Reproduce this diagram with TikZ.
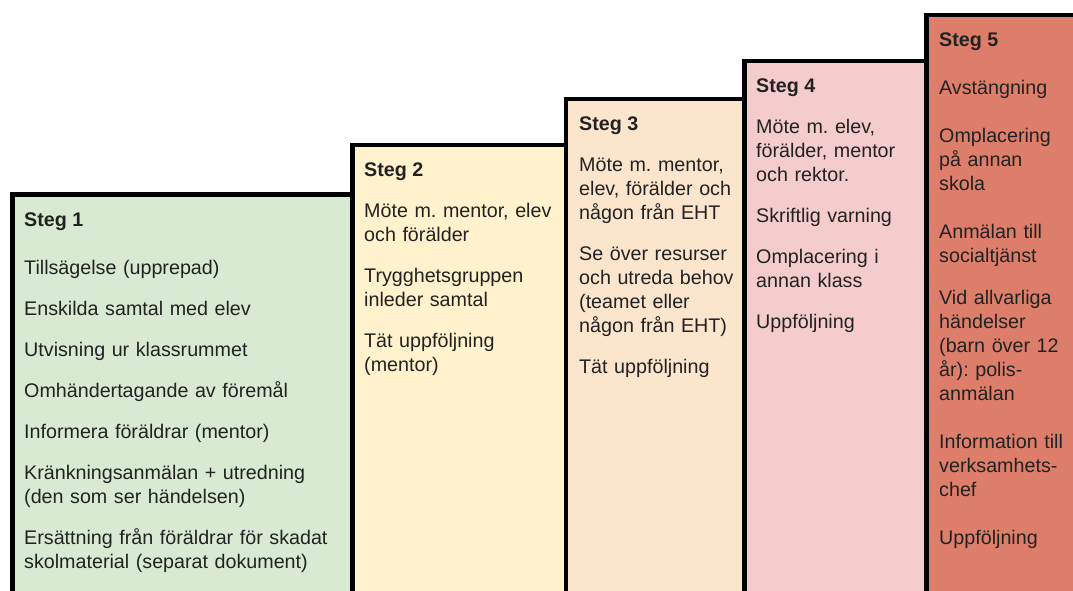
\documentclass[tikz,border=0pt]{standalone}
\usepackage{fontspec}
\setmainfont{Liberation Sans}
\definecolor{steg1}{HTML}{D9EAD3}
\definecolor{steg2}{HTML}{FFF2CC}
\definecolor{steg3}{HTML}{FCE5CD}
\definecolor{steg4}{HTML}{F4CCCC}
\definecolor{steg5}{HTML}{DD7E6B}
\definecolor{textgray}{HTML}{222222}
\tikzset{
  stegbox/.style={draw=black, line width=4.5pt},
  stegtitel/.style={anchor=base west, inner sep=0pt, text=textgray,
    font=\fontsize{19.7}{24}\selectfont\bfseries},
  stegtext/.style={anchor=base west, inner sep=0pt, align=left, text=textgray,
    font=\fontsize{19.7}{24}\selectfont\frenchspacing}
}
\begin{document}
\begin{tikzpicture}[x=1pt,y=-1pt]
  \useasboundingbox (0,0) rectangle (1073,590);
  % the steps, left to right
  \draw[stegbox, fill=steg1] (12.5,194.5) rectangle (352.5,610);
  \draw[stegbox, fill=steg2] (352.5,145) rectangle (566,610);
  \draw[stegbox, fill=steg3] (566,99) rectangle (744.5,610);
  \draw[stegbox, fill=steg4] (744.5,61) rectangle (926.5,610);
  \draw[stegbox, fill=steg5] (926.5,15) rectangle (1100,610);
  % steg 1
  \node[stegtitel] (t1) at (24,226) {Steg 1};
  \node[stegtext, text width=325pt] (b1) at (24,274) {Tillsägelse (upprepad)\\[17pt]
    Enskilda samtal med elev\\[17pt]
    Utvisning ur klassrummet\\[17pt]
    Omhändertagande av föremål\\[17pt]
    Informera föräldrar (mentor)\\[17pt]
    Kränkningsanmälan + utredning\\
    (den som ser händelsen)\\[17pt]
    Ersättning från föräldrar för skadat\\
    skolmaterial (separat dokument)};
  % steg 2
  \node[stegtitel] (t2) at (364,176) {Steg 2};
  \node[stegtext, text width=200pt] (b2) at (364,217) {Möte m. mentor, elev\\
    och förälder\\[17pt]
    Trygghetsgruppen\\
    inleder samtal\\[17pt]
    Tät uppföljning\\
    (mentor)};
  % steg 3
  \node[stegtitel] (t3) at (579,130) {Steg 3};
  \node[stegtext, text width=165pt] (b3) at (579,171) {Möte m. mentor,\\
    elev, förälder och\\
    någon från EHT\\[17pt]
    Se över resurser\\
    och utreda behov\\
    (teamet eller\\
    någon från EHT)\\[17pt]
    Tät uppföljning};
  % steg 4
  \node[stegtitel] (t4) at (756,92) {Steg 4};
  \node[stegtext, text width=170pt] (b4) at (756,133) {Möte m. elev,\\
    förälder, mentor\\
    och rektor.\\[17pt]
    Skriftlig varning\\[17pt]
    Omplacering i\\
    annan klass\\[17pt]
    Uppföljning};
  % steg 5
  \node[stegtitel] (t5) at (939,46) {Steg 5};
  \node[stegtext, text width=140pt] (b5) at (939,94) {Avstängning\\[24pt]
    Omplacering\\
    på annan\\
    skola\\[24pt]
    Anmälan till\\
    socialtjänst\\[18pt]
    Vid allvarliga\\
    händelser\\
    (barn över 12\\
    år): polis-\\
    anmälan\\[24pt]
    Information till\\
    verksamhets-\\
    chef\\[24pt]
    Uppföljning};
\end{tikzpicture}
\end{document}
